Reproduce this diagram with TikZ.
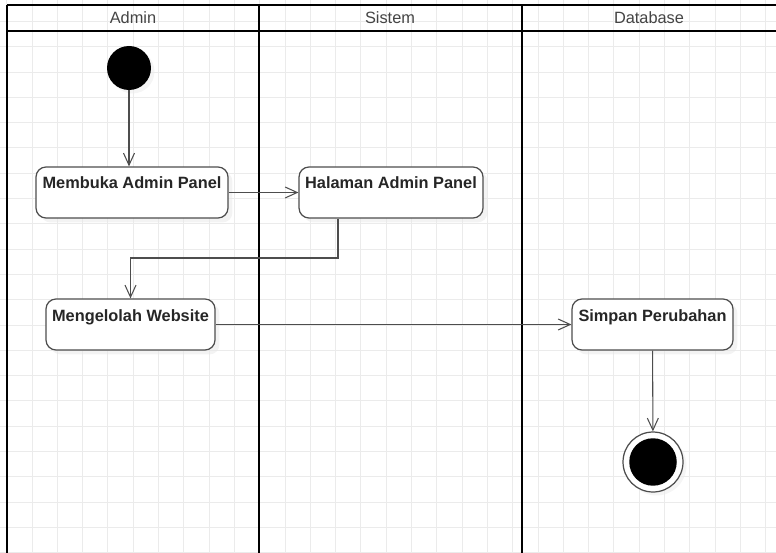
\documentclass[tikz,border=0pt]{standalone}
\usepackage{fontspec}
\setmainfont{Liberation Sans}
\usepackage{tikz}
\usetikzlibrary{shapes,arrows.meta,positioning,shadows}
\definecolor{gridgray}{HTML}{EBEBEB}
\definecolor{linegray}{HTML}{4D4D4D}
\definecolor{headtext}{HTML}{444444}
\tikzstyle{actnode} = [rectangle, rounded corners=0.2cm, draw=linegray, line width=0.7pt, fill=white,
  minimum width=0.1cm, inner xsep=0.08cm, inner ysep=0.16cm, text height=0.28cm, text depth=0.42cm,
  font=\bfseries\fontsize{9.3}{10}\selectfont, text=black!85,
  drop shadow={shadow xshift=0.09cm, shadow yshift=-0.09cm, fill=black!9}]
\tikzstyle{startnode} = [circle, fill=black, minimum size=0.88cm, inner sep=0pt,
  drop shadow={shadow xshift=0.07cm, shadow yshift=-0.07cm, fill=black!8}]
\tikzstyle{endnode} = [circle, draw=linegray, line width=0.7pt, fill=white, minimum size=1.2cm, inner sep=0pt,
  drop shadow={shadow xshift=0.07cm, shadow yshift=-0.07cm, fill=black!8}]
\tikzstyle{lanehead} = [font=\fontsize{9.3}{10}\selectfont, text=headtext]
\tikzstyle{lane} = [draw=black, line width=1.15pt]
\tikzstyle{line} = [draw=linegray, line width=0.6pt, -{Straight Barb[length=0.24cm, width=0.22cm]}]

\begin{document}
\begin{tikzpicture}[x=0.02cm, y=-0.02cm]
			\useasboundingbox (0,0) rectangle (776,553);
			% grid
			\foreach \gx in {6.7,32,...,776} \draw [gridgray, line width=0.5pt] (\gx,0) -- (\gx,553);
			\foreach \gy in {21.4,46.7,...,553} \draw [gridgray, line width=0.5pt] (0,\gy) -- (776,\gy);
			
			% swimlanes
			\path [lane] (7,5) -- (776,5);
			\path [lane] (7,31) -- (776,31);
			\path [lane] (7,5) -- (7,553);
			\path [lane] (259,5) -- (259,553);
			\path [lane] (522,5) -- (522,553);
			\node [lanehead] (admin) at (133,18) {Admin};
			\node [lanehead] (sistem) at (390,18) {Sistem};
			\node [lanehead] (database) at (649,18) {Database};
			
			\node [startnode] (start) at (129,68) {};
			\node [actnode, minimum width=3.84cm] (membuka) at (132,192.5) {Membuka Admin Panel};
			\node [actnode, minimum width=3.68cm] (halaman) at (391,192.5) {Halaman Admin Panel};
			\node [actnode, minimum width=3.38cm] (mengelolah) at (130.5,324.5) {Mengelolah Website};
			\node [actnode, minimum width=3.22cm] (simpan) at (652.5,324.5) {Simpan Perubahan};
			\node [endnode] (end) at (653,462) {};
			\fill [black] (end) circle (0.475cm);
			\coordinate (bend) at (338,258);
			
			\path [line] (start) -- (start |- membuka.north);
			\path [line] (membuka) -- (halaman);
			\path [line] (halaman.south -| bend) -- (bend) -| (mengelolah.north);
			\path [line] (mengelolah) -- (simpan);
			\path [line] (simpan) -- (end);
		\end{tikzpicture}
\end{document}
